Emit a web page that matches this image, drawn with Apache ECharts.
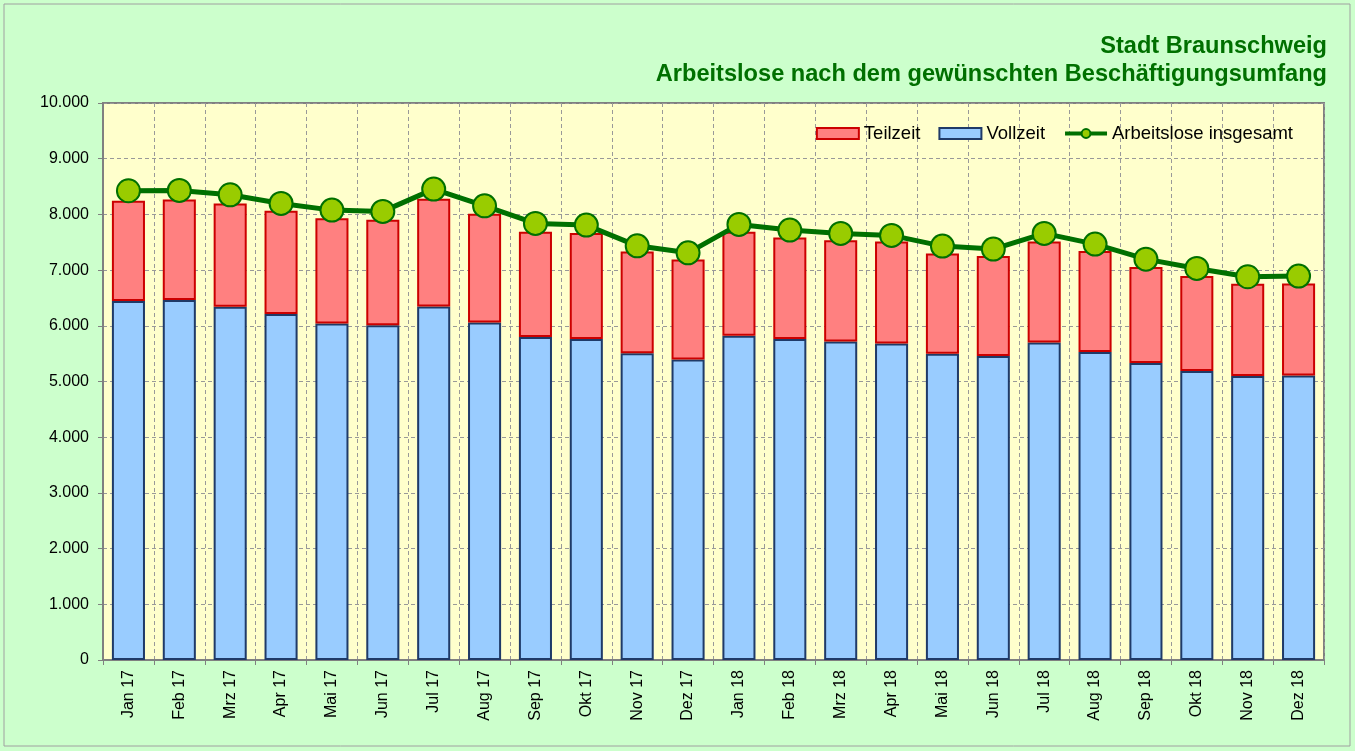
<!DOCTYPE html>
<html>
<head>
<meta charset="utf-8">
<script src="https://cdn.jsdelivr.net/npm/echarts@6/dist/echarts.min.js"></script>
<style>
  html, body { margin: 0; padding: 0; background: #ccffcc; }
  #chart { width: 1355px; height: 751px; }
</style>
</head>
<body>
<div id="chart"></div>
<script>
// Monate
var monate = ['Jan 17', 'Feb 17', 'Mrz 17', 'Apr 17', 'Mai 17', 'Jun 17', 'Jul 17', 'Aug 17',
  'Sep 17', 'Okt 17', 'Nov 17', 'Dez 17', 'Jan 18', 'Feb 18', 'Mrz 18', 'Apr 18',
  'Mai 18', 'Jun 18', 'Jul 18', 'Aug 18', 'Sep 18', 'Okt 18', 'Nov 18', 'Dez 18'];

// Arbeitslose Vollzeit (untere Saeule)
var vollzeit = [6443, 6461, 6341, 6210, 6043, 6012, 6348, 6061, 5797, 5761, 5509, 5396,
  5821, 5761, 5720, 5684, 5497, 5456, 5702, 5528, 5330, 5187, 5097, 5109];

// Arbeitslose Teilzeit (obere Saeule)
var teilzeit = [1801, 1808, 1856, 1855, 1890, 1891, 1932, 1950, 1890, 1903, 1827, 1796,
  1866, 1826, 1818, 1831, 1803, 1795, 1813, 1813, 1724, 1705, 1657, 1652];

// Arbeitslose insgesamt (Linie)
var insgesamt = [8424, 8430, 8352, 8197, 8077, 8054, 8454, 8154, 7838, 7808, 7436, 7310,
  7820, 7718, 7659, 7623, 7431, 7377, 7659, 7467, 7197, 7030, 6880, 6892];

var titel1 = 'Stadt Braunschweig';
var titel2 = 'Arbeitslose nach dem gewünschten Beschäftigungsumfang';

function tausender(v) {
  return String(v).replace(/\B(?=(\d{3})+(?!\d))/g, '.');
}

var chart = echarts.init(document.getElementById('chart'));
var schrift = 'Liberation Sans, Arial, sans-serif';
var gruen = '#007000';

var option = {
  backgroundColor: '#ccffcc',
  animation: false,
  graphic: [{
    type: 'rect',
    shape: { x: 4, y: 4, width: 1346, height: 742 },
    style: { fill: 'none', stroke: '#a0a0a0', lineWidth: 1 },
    z: -1
  }, {
    type: 'text',
    x: 1327,
    y: 46,
    style: {
      text: titel1, align: 'right', verticalAlign: 'middle',
      textAlign: 'right', textVerticalAlign: 'middle',
      font: 'bold 23.6px ' + schrift, fill: gruen
    }
  }, {
    type: 'text',
    x: 1327,
    y: 74,
    style: {
      text: titel2, align: 'right', verticalAlign: 'middle',
      textAlign: 'right', textVerticalAlign: 'middle',
      font: 'bold 23.6px ' + schrift, fill: gruen
    }
  }],
  legend: {
    right: 57,
    top: 119,
    itemWidth: 42,
    itemHeight: 11,
    itemGap: 18,
    lineStyle: { width: 4 },
    textStyle: { fontFamily: schrift, fontSize: 18.5, color: '#000' },
    data: [
      { name: 'Teilzeit', icon: 'rect' },
      { name: 'Vollzeit', icon: 'rect' },
      { name: 'Arbeitslose insgesamt' }
    ]
  },
  grid: {
    left: 103,
    right: 31,
    top: 103,
    bottom: 91,
    show: true,
    backgroundColor: '#ffffcc',
    borderColor: '#808080',
    borderWidth: 2
  },
  xAxis: {
    type: 'category',
    data: monate,
    boundaryGap: true,
    axisLine: { lineStyle: { color: '#808080', width: 2 } },
    axisTick: { show: true, length: 5, lineStyle: { color: '#808080' } },
    splitLine: { show: true, lineStyle: { color: '#999999', type: [4, 3], width: 1 } },
    axisLabel: {
      rotate: 90,
      margin: 10,
      fontFamily: schrift,
      fontSize: 16,
      color: '#000'
    }
  },
  yAxis: {
    type: 'value',
    min: 0,
    max: 10000,
    interval: 1000,
    axisLine: { show: true, lineStyle: { color: '#808080', width: 2 } },
    axisTick: { show: true, length: 5, lineStyle: { color: '#808080' } },
    splitLine: { show: true, lineStyle: { color: '#999999', type: [4, 3], width: 1 } },
    axisLabel: {
      margin: 14,
      fontFamily: schrift,
      fontSize: 16,
      color: '#000',
      formatter: function (v) { return tausender(v); }
    }
  },
  series: [{
    name: 'Vollzeit',
    type: 'bar',
    stack: 'summe',
    barWidth: '65%',
    data: vollzeit,
    itemStyle: { color: '#99ccff', borderColor: '#1f3a68', borderWidth: 2 }
  }, {
    name: 'Teilzeit',
    type: 'bar',
    stack: 'summe',
    barWidth: '65%',
    data: teilzeit,
    itemStyle: { color: '#ff8080', borderColor: '#cc0000', borderWidth: 2 }
  }, {
    name: 'Arbeitslose insgesamt',
    type: 'line',
    data: insgesamt,
    symbol: 'circle',
    symbolSize: 23,
    lineStyle: { color: gruen, width: 5 },
    itemStyle: { color: '#99cc00', borderColor: gruen, borderWidth: 2 },
    z: 5
  }]
};

chart.setOption(option);
</script>
</body>
</html>
